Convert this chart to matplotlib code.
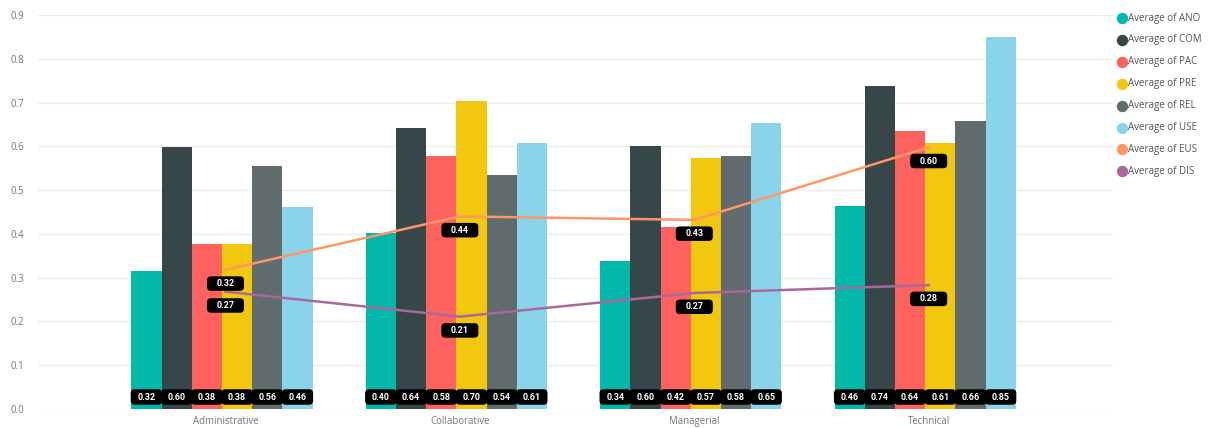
import matplotlib
matplotlib.use("Agg")
import matplotlib.pyplot as plt
from matplotlib.patches import FancyBboxPatch
import numpy as np

categories = ["Administrative", "Collaborative", "Managerial", "Technical"]
bar_series = ["ANO", "COM", "PAC", "PRE", "REL", "USE"]
ANO = [0.316, 0.402, 0.338, 0.463]
COM = [0.598, 0.642, 0.600, 0.737]
PAC = [0.376, 0.578, 0.416, 0.636]
PRE = [0.376, 0.703, 0.573, 0.607]
REL = [0.555, 0.535, 0.578, 0.657]
USE = [0.461, 0.607, 0.653, 0.849]
EUS = [0.318, 0.440, 0.432, 0.598]
DIS = [0.268, 0.211, 0.265, 0.283]
yticks = [0.0, 0.1, 0.2, 0.3, 0.4, 0.5, 0.6, 0.7, 0.8, 0.9]

colors = {"ANO": "#01B8AA", "COM": "#374649", "PAC": "#FD625E", "PRE": "#F2C80F",
          "REL": "#5F6B6D", "USE": "#8AD4EB", "EUS": "#FE9666", "DIS": "#A66999"}
bar_data = {"ANO": ANO, "COM": COM, "PAC": PAC, "PRE": PRE, "REL": REL, "USE": USE}

W, H = 1208, 428
fig = plt.figure(figsize=(W / 100, H / 100), dpi=100)
ax_l, ax_r, ax_t, ax_b = 38, 1113, 15, 409
ax = fig.add_axes([ax_l / W, (H - ax_b) / H, (ax_r - ax_l) / W, (ax_b - ax_t) / H])

c0, step = 225.5, 234.4
ax.set_xlim((ax_l - c0) / step, (ax_r - c0) / step)
ax.set_ylim(0, 0.9)
xpx = 1.0 / step                 # data units per pixel in x
ypx = 0.9 / (ax_b - ax_t)        # data units per pixel in y

x = np.arange(len(categories))
bw_px = 30.2
bw = bw_px * xpx
shift = -3.6 * xpx
n = len(bar_series)
for i, s in enumerate(bar_series):
    offs = (i - (n - 1) / 2) * bw + shift
    ax.bar(x + offs, bar_data[s], width=bw, color=colors[s], zorder=2, linewidth=0)

# line series
ax.plot(x, EUS, color=colors["EUS"], lw=1.8, zorder=3)
ax.plot(x, DIS, color=colors["DIS"], lw=1.8, zorder=3)

lab_font = dict(family=["Roboto", "DejaVu Sans"], weight="bold", size=6.5, color="white")
aspect = ypx / xpx

def label_box(cx, cy, w_px, h_px, txt):
    w = w_px * xpx
    h = h_px * ypx
    r = 4 * xpx
    p = FancyBboxPatch((cx - w / 2, cy - h / 2), w, h,
                       boxstyle=f"round,pad=0,rounding_size={r}",
                       mutation_aspect=aspect, fc="black", ec="none", zorder=5)
    ax.add_patch(p)
    ax.text(cx, cy, txt, ha="center", va="center", zorder=6, **lab_font)

# bar labels
for i, s in enumerate(bar_series):
    offs = (i - (n - 1) / 2) * bw + shift
    for j, v in enumerate(bar_data[s]):
        label_box(x[j] + offs, 12 * ypx, bw_px + 1.2, 15.5, f"{v:.2f}")

# line labels
for arr in (EUS, DIS):
    for j, v in enumerate(arr):
        label_box(x[j], v - 13.8 * ypx, 37, 14.5, f"{v:.2f}")

# axes styling
for sp in ax.spines.values():
    sp.set_visible(False)
ax.set_yticks(yticks)
ax.set_yticklabels([f"{t:.1f}" for t in yticks])
ax.grid(axis="y", color="#ebebeb", lw=0.9, zorder=0)
ax.set_axisbelow(True)
ax.set_xticks(x)
ax.set_xticklabels(categories)
tick_font = ["Open Sans", "DejaVu Sans"]
ax.tick_params(axis="both", length=0)
ax.tick_params(axis="y", pad=10)
ax.tick_params(axis="x", pad=5)

# fit tick font size so "Administrative" is ~65 px wide
renderer = fig.canvas.get_renderer()
probe = fig.text(0, 0, "Administrative", family=tick_font, fontsize=10)
wpx = probe.get_window_extent(renderer).width
probe.remove()
tick_size = 10 * 65.0 / wpx
for lab in ax.get_xticklabels() + ax.get_yticklabels():
    lab.set_family(tick_font)
    lab.set_fontsize(tick_size)
    lab.set_color("#777777")

# legend (manual)
probe = fig.text(0, 0, "Average of ANO", family=tick_font, fontsize=10)
wpx = probe.get_window_extent(renderer).width
probe.remove()
leg_size = 10 * 72.0 / wpx
leg_series = bar_series + ["EUS", "DIS"]
for k, s in enumerate(leg_series):
    yy = 18 + k * 21.9
    fig.add_artist(plt.Line2D([1122 / W], [1 - yy / H], marker="o", ms=7.2,
                              color=colors[s], lw=0, transform=fig.transFigure))
    fig.text(1128 / W, 1 - yy / H, f"Average of {s}", ha="left", va="center",
             family=tick_font, fontsize=leg_size, color="#555555")

fig.savefig("out.png", dpi=100)
